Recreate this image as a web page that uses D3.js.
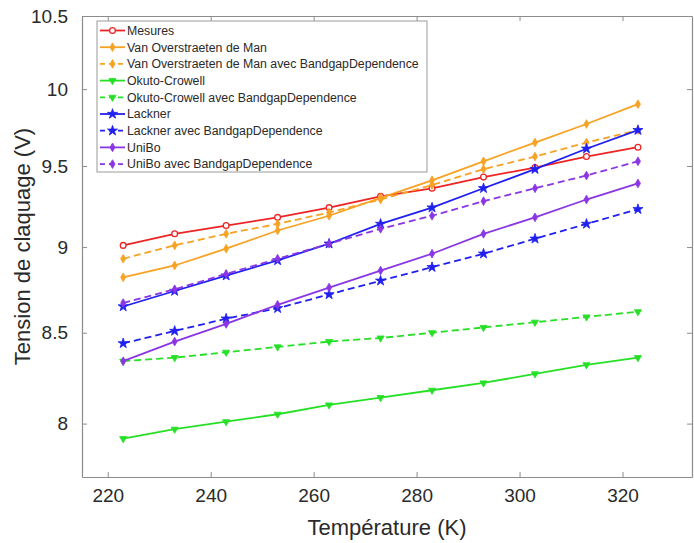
<!DOCTYPE html>
<html>
<head>
<meta charset="utf-8">
<script src="https://cdn.jsdelivr.net/npm/d3@7/dist/d3.min.js"></script>
<style>
  html, body { margin: 0; padding: 0; background: #ffffff; }
  svg { display: block; }
  text { font-family: "Liberation Sans", Arial, Helvetica, sans-serif; }
</style>
</head>
<body>
<svg id="chart" width="694" height="543"></svg>
<script>
// ---- data ----
const temperatures = [223, 233, 243, 253, 263, 273, 283, 293, 303, 313, 323];
const mesures          = [9.01, 9.08, 9.13, 9.18, 9.24, 9.31, 9.36, 9.43, 9.49, 9.56, 9.62];
const vanOverstraeten  = [8.82, 8.89, 8.99, 9.10, 9.19, 9.30, 9.41, 9.53, 9.65, 9.77, 9.90];
const vanOverstraetenBG= [8.93, 9.01, 9.08, 9.14, 9.21, 9.29, 9.38, 9.48, 9.56, 9.65, 9.73];
const okutoCrowell     = [7.92, 7.97, 8.01, 8.05, 8.10, 8.14, 8.18, 8.22, 8.27, 8.32, 8.36];
const okutoCrowellBG   = [8.34, 8.36, 8.39, 8.42, 8.45, 8.47, 8.50, 8.53, 8.56, 8.59, 8.62];
const lackner          = [8.65, 8.74, 8.83, 8.92, 9.02, 9.14, 9.24, 9.36, 9.48, 9.61, 9.73];
const lacknerBG        = [8.44, 8.51, 8.58, 8.64, 8.72, 8.80, 8.88, 8.96, 9.05, 9.14, 9.23];
const uniBo            = [8.34, 8.45, 8.55, 8.66, 8.76, 8.86, 8.96, 9.08, 9.18, 9.29, 9.39];
const uniBoBG          = [8.67, 8.75, 8.84, 8.93, 9.02, 9.11, 9.19, 9.28, 9.36, 9.44, 9.53];

const seriesNames = [
  "Mesures",
  "Van Overstraeten de Man",
  "Van Overstraeten de Man avec BandgapDependence",
  "Okuto-Crowell",
  "Okuto-Crowell avec BandgapDependence",
  "Lackner",
  "Lackner avec BandgapDependence",
  "UniBo",
  "UniBo avec BandgapDependence"
];
const xTicks = [220, 240, 260, 280, 300, 320];
const yTicks = [8, 8.5, 9, 9.5, 10, 10.5];
const xDomain = [215, 333.5];
const yDomain = [7.72, 10.5];
const xTitle = "Température (K)";
const yTitle = "Tension de claquage (V)";

// ---- styles ----
const seriesValues = [mesures, vanOverstraeten, vanOverstraetenBG, okutoCrowell, okutoCrowellBG,
                      lackner, lacknerBG, uniBo, uniBoBG];
const styles = [
  {color: "#ee2424", dash: null,  marker: "circle"},
  {color: "#f6a223", dash: null,  marker: "diamond"},
  {color: "#f6a223", dash: "7,4", marker: "diamond"},
  {color: "#25e025", dash: null,  marker: "triangle"},
  {color: "#25e025", dash: "7,4", marker: "triangle"},
  {color: "#2020f0", dash: null,  marker: "star"},
  {color: "#2020f0", dash: "7,4", marker: "star"},
  {color: "#8b36e4", dash: null,  marker: "diamond"},
  {color: "#8b36e4", dash: "7,4", marker: "diamond"}
];

const plot = {left: 82, right: 692, top: 16, bottom: 477};
const axisColor = "#8c8c8c";
const textColor = "#2a2a2a";

const svg = d3.select("#chart");

const x = d3.scaleLinear().domain(xDomain).range([plot.left, plot.right]);
const y = d3.scaleLog().domain(yDomain).range([plot.bottom, plot.top]);

// axes (MATLAB-like box with inward ticks)
const tickLen = 5;
const xAxisBottom = d3.axisBottom(x).tickValues(xTicks).tickSizeInner(-tickLen).tickSizeOuter(0).tickPadding(12).tickFormat(d => String(d));
const xAxisTop = d3.axisTop(x).tickValues(xTicks).tickSizeInner(-tickLen).tickSizeOuter(0).tickFormat("");
const yAxisLeft = d3.axisLeft(y).tickValues(yTicks).tickSizeInner(-tickLen).tickSizeOuter(0).tickPadding(14).tickFormat(d => String(d));
const yAxisRight = d3.axisRight(y).tickValues(yTicks).tickSizeInner(-tickLen).tickSizeOuter(0).tickFormat("");

function styleAxis(g) {
  g.selectAll("path").attr("stroke", axisColor).attr("stroke-width", 1.2);
  g.selectAll("line").attr("stroke", axisColor).attr("stroke-width", 1);
  g.selectAll("text").attr("fill", textColor).style("font-size", "19px")
    .style("font-family", "'Liberation Sans', Arial, sans-serif");
}

svg.append("g").attr("transform", `translate(0,${plot.bottom})`).call(xAxisBottom).call(styleAxis);
svg.append("g").attr("transform", `translate(0,${plot.top})`).call(xAxisTop).call(styleAxis);
svg.append("g").attr("transform", `translate(${plot.left},0)`).call(yAxisLeft).call(styleAxis);
svg.append("g").attr("transform", `translate(${plot.right},0)`).call(yAxisRight).call(styleAxis);

// axis titles
svg.append("text")
  .attr("x", (plot.left + plot.right) / 2).attr("y", 535)
  .attr("text-anchor", "middle").attr("fill", textColor)
  .style("font-size", "22px").text(xTitle);
svg.append("text")
  .attr("transform", `translate(30,${(plot.top + plot.bottom) / 2}) rotate(-90)`)
  .attr("text-anchor", "middle").attr("fill", textColor)
  .style("font-size", "22px").text(yTitle);

// markers
const symbolTypes = {
  circle: d3.symbolCircle,
  diamond: d3.symbolDiamond,
  triangle: d3.symbolTriangle,
  star: d3.symbolStar
};
const symbolSizes = {circle: 26, diamond: 22, triangle: 22, star: 32};

function drawMarker(g, type, color, cx, cy) {
  const path = d3.symbol().type(symbolTypes[type]).size(symbolSizes[type])();
  const m = g.append("path").attr("d", path)
    .attr("transform", `translate(${cx},${cy})` + (type === "triangle" ? " rotate(180)" : ""));
  if (type === "circle") {
    m.attr("fill", "#ffffff").attr("stroke", color).attr("stroke-width", 1.3);
  } else {
    m.attr("fill", color).attr("stroke", color).attr("stroke-width", 0.8);
  }
}

// series
const line = d3.line().x(d => x(d[0])).y(d => y(d[1]));
const plotG = svg.append("g");
seriesValues.forEach((vals, i) => {
  const st = styles[i];
  const pts = temperatures.map((t, j) => [t, vals[j]]);
  plotG.append("path").datum(pts)
    .attr("d", line).attr("fill", "none")
    .attr("stroke", st.color).attr("stroke-width", 1.8)
    .attr("stroke-dasharray", st.dash);
  pts.forEach(p => drawMarker(plotG, st.marker, st.color, x(p[0]), y(p[1])));
});

// legend
const leg = {x: 97, y: 21, w: 330, h: 151, row0: 30.5, rowH: 16.7};
const legG = svg.append("g");
legG.append("rect").attr("x", leg.x).attr("y", leg.y).attr("width", leg.w).attr("height", leg.h)
  .attr("fill", "#ffffff").attr("stroke", "#9a9a9a").attr("stroke-width", 1);
seriesNames.forEach((name, i) => {
  const st = styles[i];
  const cy = leg.row0 + i * leg.rowH;
  legG.append("line").attr("x1", 100).attr("x2", 125).attr("y1", cy).attr("y2", cy)
    .attr("stroke", st.color).attr("stroke-width", 1.8)
    .attr("stroke-dasharray", st.dash ? "5,4" : null);
  drawMarker(legG, st.marker, st.color, 112.5, cy);
  legG.append("text").attr("x", 127).attr("y", cy + 4.3)
    .attr("fill", textColor).style("font-size", "12.3px").text(name);
});
</script>
</body>
</html>
